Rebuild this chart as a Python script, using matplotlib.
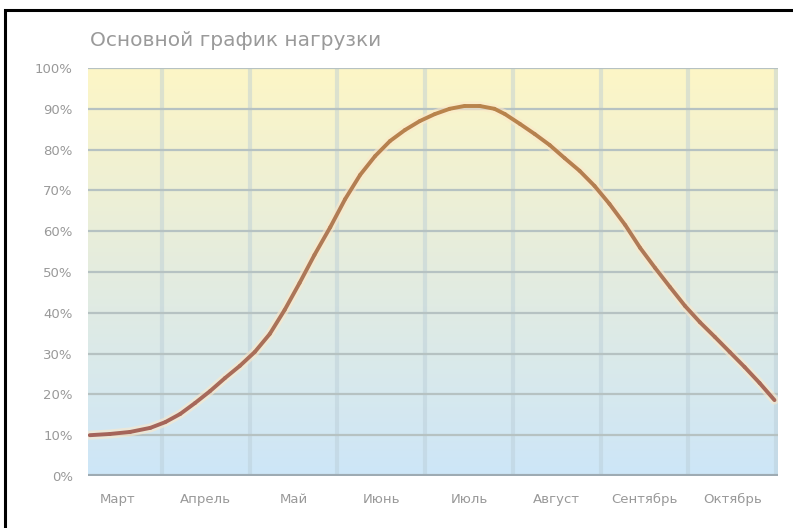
import numpy as np
import matplotlib
matplotlib.use("Agg")
import matplotlib.pyplot as plt
from matplotlib.colors import LinearSegmentedColormap
from matplotlib.collections import LineCollection
from matplotlib.patches import Rectangle

title = "Основной график нагрузки"
months = ["Март", "Апрель", "Май", "Июнь", "Июль", "Август", "Сентябрь", "Октябрь"]
y_ticks = [0, 10, 20, 30, 40, 50, 60, 70, 80, 90, 100]

# position along the month axis (0 = start of first month) and load, %
pos = [0.18, 0.41, 0.64, 0.87, 1.04, 1.21, 1.38, 1.55, 1.72, 1.89, 2.06, 2.23,
       2.40, 2.57, 2.74, 2.92, 3.09, 3.26, 3.43, 3.60, 3.77, 3.94, 4.11, 4.28,
       4.45, 4.62, 4.79, 4.91, 5.08, 5.25, 5.42, 5.59, 5.76, 5.93, 6.10, 6.28,
       6.45, 6.62, 6.79, 6.96, 7.13, 7.30, 7.47, 7.64, 7.81, 7.98]
load = [10.0, 10.3, 10.8, 11.8, 13.2, 15.2, 17.9, 20.8, 24.0, 27.0, 30.4, 34.8,
        40.7, 47.3, 54.2, 61.0, 67.9, 73.8, 78.4, 82.1, 84.8, 87.0, 88.7, 90.0,
        90.7, 90.7, 90.0, 88.7, 86.3, 83.8, 81.1, 77.9, 74.8, 71.1, 66.7, 61.5,
        55.9, 51.0, 46.3, 41.7, 37.7, 34.1, 30.4, 26.7, 22.8, 18.6]

fig = plt.figure(figsize=(7.93, 5.28), dpi=100)
ax = fig.add_axes([88/793, 1-476/528, (778-88)/793, (476-68)/528])

x0, x1 = 0.16, 8.02
ax.set_xlim(x0, x1)
ax.set_ylim(0, 100)

cmap = LinearSegmentedColormap.from_list("bg", ["#cde6f8", "#e4ecdf", "#fdf6c6"])
grad = np.linspace(0, 1, 256).reshape(-1, 1)
ax.imshow(grad, cmap=cmap, origin="lower", aspect="auto",
          extent=[x0, x1, 0, 100], zorder=0)

for k in range(1, 9):
    ax.axvline(k, color="#b9ccd6", lw=3, alpha=0.45, zorder=1)
for t in y_ticks[1:]:
    ax.axhline(t, color="#b6c2c2", lw=1.6, zorder=2)
ax.axhline(0, color="#9eabb3", lw=3, zorder=3)

ax.plot(pos, load, color="#fde8c8", lw=6.5, alpha=0.6, zorder=4,
        solid_capstyle="round")
pts = np.column_stack([pos, load]).reshape(-1, 1, 2)
segs = np.concatenate([pts[:-1], pts[1:]], axis=1)
mid = (np.array(load[:-1]) + np.array(load[1:])) / 2
line_cmap = LinearSegmentedColormap.from_list("ln", ["#a5645a", "#ad7858", "#b9844c"])
lc = LineCollection(segs, cmap=line_cmap, norm=plt.Normalize(10, 91),
                    linewidths=2.8, zorder=5, capstyle="round")
lc.set_array(mid)
ax.add_collection(lc)

for s in ax.spines.values():
    s.set_visible(False)
ax.set_yticks(y_ticks)
ax.set_yticklabels([f"{t}%" for t in y_ticks])
ax.set_xticks([k + 0.5 for k in range(8)])
ax.set_xticklabels(months)
ax.tick_params(length=0, colors="#999999", labelsize=9.5)
ax.tick_params(axis="y", pad=11)
ax.tick_params(axis="x", pad=12)

fig.text(90/793, 1-40/528, title, color="#9a9a9a", fontsize=14.5, va="center", ha="left")

fig.patches.append(Rectangle((5/793, -0.01), 1.1, 1-10/528 + 0.01,
                             transform=fig.transFigure, fill=False,
                             edgecolor="black", lw=2.2))

fig.savefig("out.png", dpi=100, facecolor="white")
